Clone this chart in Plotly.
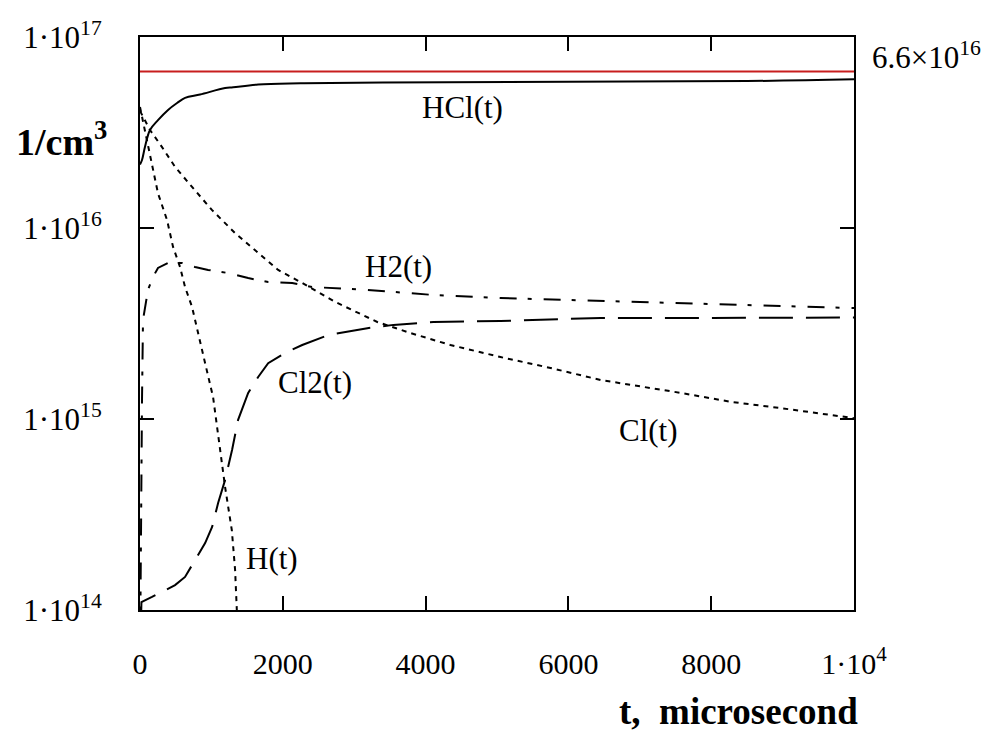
import math
import plotly.graph_objects as go

# ---- data ----
t_hcl = [0, 28, 70, 140, 252, 393, 519, 631, 841, 1192, 1304, 1655, 2250, 3400, 8500, 10000]
v_hcl = [2.15e16, 2.27e16, 2.66e16, 3.26e16, 3.67e16, 4.15e16, 4.51e16, 4.80e16,
         5.0e16, 5.40e16, 5.45e16, 5.64e16, 5.72e16, 5.78e16, 5.88e16, 6.0e16]

t_cl = [0, 140, 309, 491, 729, 1010, 1332, 1655, 1935, 2272, 2735, 3324, 3787,
        4348, 5049, 5750, 6452, 7574, 8275, 8976, 9677, 10000]
v_cl = [4.1e16, 3.26e16, 2.65e16, 2.09e16, 1.64e16, 1.24e16, 9.4e15, 7.4e15,
        6.03e15, 5.15e15, 4.10e15, 3.22e15, 2.82e15, 2.44e15, 2.11e15, 1.85e15,
        1.60e15, 1.37e15, 1.23e15, 1.14e15, 1.05e15, 1.01e15]

t_h = [0, 100, 182, 252, 379, 463, 561, 631, 729, 800, 912, 1024, 1080, 1145,
       1192, 1286, 1332, 1356, 1370]
v_h = [4.3e16, 2.85e16, 2.0e16, 1.52e16, 1.10e16, 7.96e15, 6.25e15, 4.91e15,
       3.86e15, 2.92e15, 1.96e15, 1.30e15, 9.1e14, 6.1e14, 4.4e14, 2.62e14,
       1.62e14, 1.0e14, 8e13]

t_h2 = [0, 14, 28, 42, 70, 112, 182, 252, 393, 589, 771, 954, 1234, 1515, 1795,
        2132, 2412, 3184, 4109, 5049, 5989, 7574, 8513, 9677, 10000]
v_h2 = [5e13, 3.6e14, 1.25e15, 3.3e15, 3.9e15, 4.75e15, 5.54e15, 6.18e15, 6.56e15,
        6.56e15, 6.25e15, 6.03e15, 5.81e15, 5.47e15, 5.21e15, 5.15e15, 4.91e15,
        4.74e15, 4.46e15, 4.3e15, 4.2e15, 4.05e15, 3.95e15, 3.86e15, 3.81e15]

t_cl2 = [0, 20, 168, 309, 491, 631, 771, 912, 1010, 1094, 1192, 1290, 1374, 1515,
         1655, 1795, 2034, 2272, 2637, 3184, 3548, 4109, 5049, 6452, 8000, 10000]
v_cl2 = [5e13, 1.1e14, 1.17e14, 1.24e14, 1.35e14, 1.49e14, 1.83e14, 2.24e14,
         2.72e14, 3.63e14, 4.8e14, 6.9e14, 9.9e14, 1.37e15, 1.66e15, 1.96e15,
         2.22e15, 2.44e15, 2.75e15, 2.99e15, 3.11e15, 3.22e15, 3.26e15, 3.38e15,
         3.38e15, 3.4e15]

ref_level = 6.6e16
t_range = [0, 10000]

x_tickvals = [0, 2000, 4000, 6000, 8000, 10000]
x_ticktext = ["0", "2000", "4000", "6000", "8000", "1·10<sup>4</sup>"]
y_tickvals = [1e14, 1e15, 1e16, 1e17]
y_ticktext = ["1·10<sup>14</sup>", "1·10<sup>15</sup>", "1·10<sup>16</sup>", "1·10<sup>17</sup>"]

# curve labels: (text, t, value)
labels = [("HCl(t)", 4516, 4.3e16),
          ("H2(t)", 3619, 6.25e15),
          ("Cl2(t)", 2454, 1.56e15),
          ("Cl(t)", 7125, 8.75e14),
          ("H(t)", 1851, 1.85e14)]

SERIF = "Liberation Serif, Times New Roman, serif"

fig = go.Figure()
fig.add_trace(go.Scatter(x=t_range, y=[ref_level, ref_level], mode="lines",
                         line=dict(color="#c81e1e", width=2), hoverinfo="skip"))
fig.add_trace(go.Scatter(x=t_hcl, y=v_hcl, mode="lines", line_shape="spline",
                         line=dict(color="black", width=2)))
fig.add_trace(go.Scatter(x=t_cl, y=v_cl, mode="lines",
                         line=dict(color="black", width=2, dash="5px,5px")))
fig.add_trace(go.Scatter(x=t_h, y=v_h, mode="lines",
                         line=dict(color="black", width=2, dash="5px,5px")))
fig.add_trace(go.Scatter(x=t_h2, y=v_h2, mode="lines",
                         line=dict(color="black", width=2, dash="17px,11px,4px,12px")))
fig.add_trace(go.Scatter(x=t_cl2, y=v_cl2, mode="lines",
                         line=dict(color="black", width=2, dash="34px,13px")))

for txt, tx, vy in labels:
    fig.add_annotation(x=tx, y=math.log10(vy), xref="x", yref="y", text=txt,
                       showarrow=False, font=dict(family=SERIF, size=31, color="black"))

fig.add_annotation(x=1.023, y=math.log10(8.0e16), xref="paper", yref="y",
                   text="6.6×10<sup>16</sup>", showarrow=False, xanchor="left",
                   yanchor="middle", font=dict(family=SERIF, size=31, color="black"))

fig.add_annotation(x=-0.177, y=0.822, xref="paper", yref="paper",
                   text="<b>1/cm<sup>3</sup></b>", showarrow=False, xanchor="left",
                   yanchor="middle", font=dict(family=SERIF, size=38, color="black"))

fig.add_annotation(x=1.008, y=-0.178, xref="paper", yref="paper",
                   text="<b>t,&nbsp; microsecond</b>", showarrow=False, xanchor="right",
                   yanchor="middle", font=dict(family=SERIF, size=37, color="black"))

axis_common = dict(showline=True, linecolor="black", linewidth=2, mirror="allticks",
                   ticks="inside", ticklen=14, tickwidth=1.5, tickcolor="black",
                   showgrid=False, zeroline=False)

fig.update_xaxes(range=t_range, tickmode="array", tickvals=x_tickvals,
                 ticktext=x_ticktext, ticklabelstandoff=26,
                 tickfont=dict(family=SERIF, size=30, color="black"), **axis_common)
fig.update_yaxes(type="log", range=[14, 17], tickmode="array", tickvals=y_tickvals,
                 ticktext=y_ticktext, ticklabelstandoff=30,
                 tickfont=dict(family=SERIF, size=31, color="black"), **axis_common)

fig.update_layout(width=994, height=733, showlegend=False,
                  margin=dict(l=140, r=140, t=37, b=123),
                  paper_bgcolor="white", plot_bgcolor="white")

fig.write_html("out.html")
